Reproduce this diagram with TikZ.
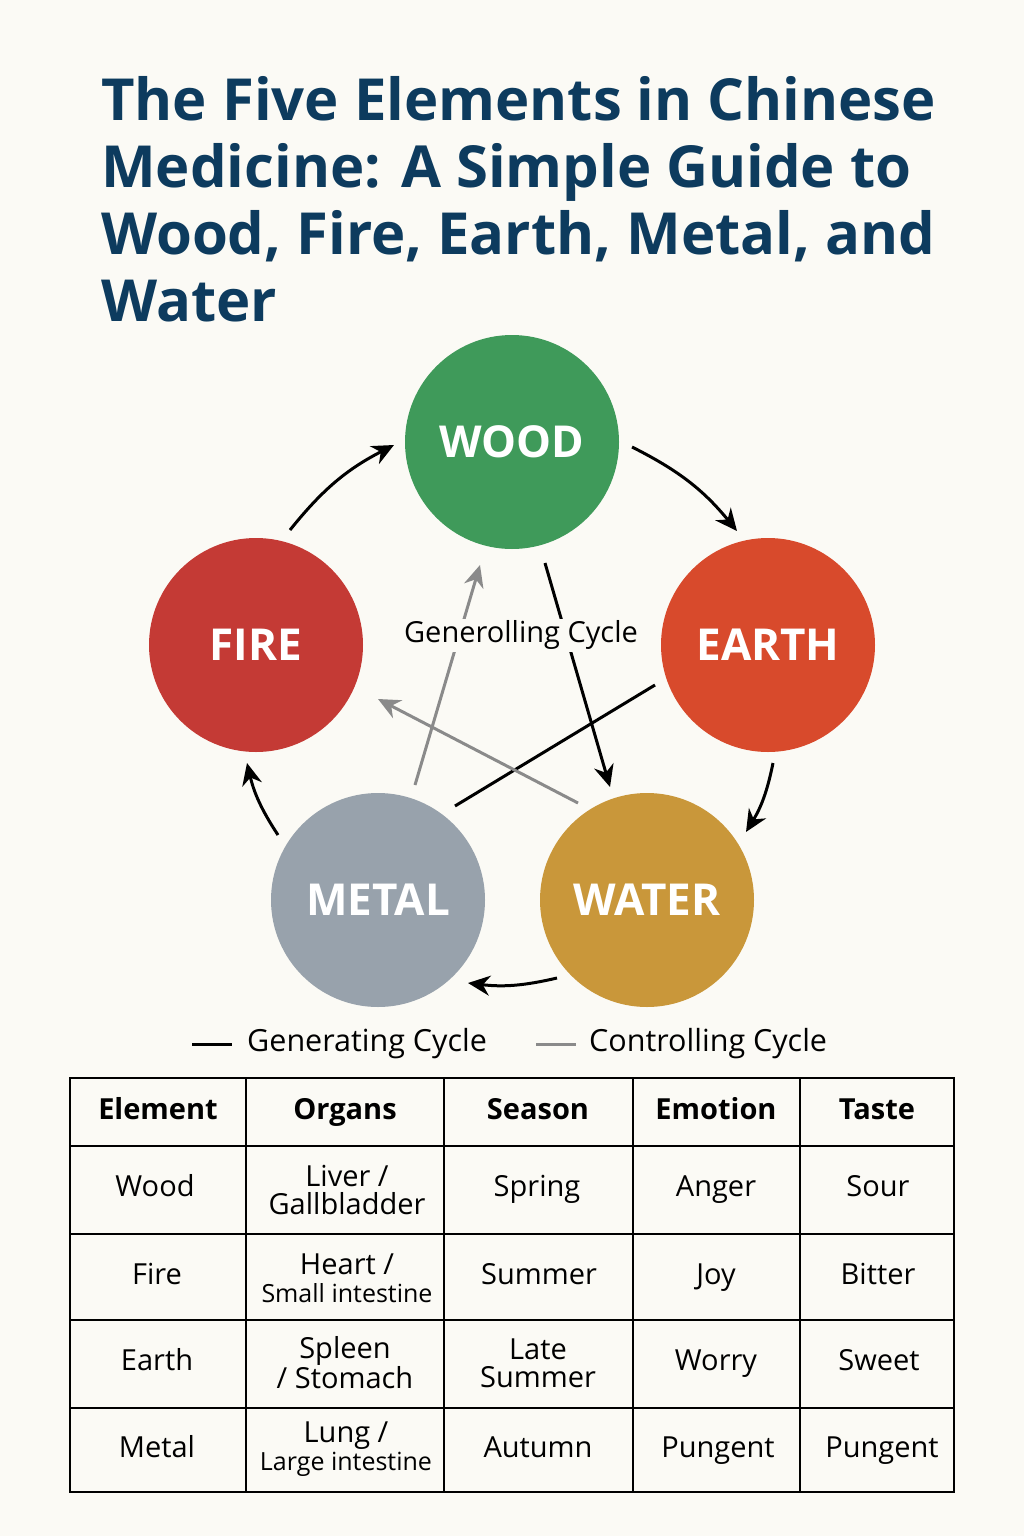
\documentclass[tikz,border=0pt]{standalone}
\usepackage{fontspec}
\setmainfont{Open Sans}
\usetikzlibrary{arrows.meta}
\definecolor{bg}{HTML}{FBFAF5}
\definecolor{navy}{HTML}{0D3B5E}
\definecolor{woodc}{HTML}{3F9A5A}
\definecolor{firec}{HTML}{C43A35}
\definecolor{earthc}{HTML}{D84A2C}
\definecolor{metalc}{HTML}{98A2AC}
\definecolor{waterc}{HTML}{C9973A}
\definecolor{grayl}{HTML}{8A8A8A}
\tikzset{
 elem/.style={circle,minimum size=214pt,inner sep=0pt,text=white,font=\fontsize{44}{50}\selectfont\bfseries},
 gen/.style={-{Stealth[length=22pt,width=20pt]},line width=3pt,black},
 ctl/.style={-{Stealth[length=22pt,width=20pt]},line width=3pt,grayl},
 cell/.style={font=\fontsize{29}{30}\selectfont,align=center,inner sep=0pt,text height=21pt,text depth=7pt},
 hcell/.style={cell,font=\fontsize{29}{30}\selectfont\bfseries},
 two/.style={font=\fontsize{29}{28}\selectfont,align=center,inner sep=0pt},
}
\begin{document}
\begin{tikzpicture}[x=1pt,y=-1pt]
\fill[bg] (0,0) rectangle (1024,1536);
\useasboundingbox (0,0) rectangle (1024,1536);
\node[anchor=north west,text=navy,font=\fontsize{58}{67}\selectfont\bfseries,align=left,inner sep=0pt] (title) at (101,76)
 {The Five Elements in Chinese\\Medicine: A Simple Guide to\\Wood, Fire, Earth, Metal, and\\Water};
\node[elem,fill=woodc] (wood) at (512,442) {WOOD};
\node[elem,fill=firec] (fire) at (256,645) {FIRE};
\node[elem,fill=earthc] (earth) at (768,645) {EARTH};
\node[elem,fill=metalc] (metal) at (378,900) {METAL};
\node[elem,fill=waterc] (water) at (647,900) {WATER};
\coordinate (f1) at (290,530); \coordinate (w1) at (394,445);
\draw[gen] (f1) to[bend left=12] (w1);
\coordinate (w2) at (632,447); \coordinate (e1) at (737,531);
\draw[gen] (w2) to[bend left=12] (e1);
\coordinate (e2) at (773,763); \coordinate (a1) at (746,832);
\draw[gen] (e2) to[bend left=10] (a1);
\coordinate (a2) at (557,978); \coordinate (m1) at (468,983);
\draw[gen] (a2) to[bend left=10] (m1);
\coordinate (m2) at (278,835); \coordinate (fi1) at (247,763);
\draw[gen] (m2) to[bend left=10] (fi1);
\coordinate (g1) at (545,563); \coordinate (g2) at (610,787);
\draw[gen] (g1) -- (g2);
\coordinate (k1) at (455,806); \coordinate (k2) at (655,685);
\draw[line width=3pt] (k1) -- (k2);
\coordinate (c1) at (415,785); \coordinate (c2) at (480,565);
\draw[ctl] (c1) -- (c2);
\coordinate (c3) at (578,803); \coordinate (c4) at (378,699);
\draw[ctl] (c3) -- (c4);
\node[font=\fontsize{29}{30}\selectfont,inner sep=2pt,fill=bg] (lbl) at (521,635) {Generolling Cycle};
% legend
\coordinate (l1) at (192,1044); \coordinate (l2) at (232,1044);
\draw[line width=3pt] (l1) -- (l2);
\node[anchor=west,font=\fontsize{30.5}{30}\selectfont,inner sep=0pt] (lg1) at (247,1044) {Generating Cycle};
\coordinate (l3) at (536,1044); \coordinate (l4) at (576,1044);
\draw[line width=3pt,grayl] (l3) -- (l4);
\node[anchor=west,font=\fontsize{30.5}{30}\selectfont,inner sep=0pt] (lg2) at (589,1044) {Controlling Cycle};
% table
\draw[line width=2pt] (70,1078) rectangle (954,1492);
\foreach \x in {246,444,633,800} \draw[line width=1.5pt] (\x,1078) -- (\x,1492);
\foreach \y in {1146,1234,1320,1408} \draw[line width=1.5pt] (70,\y) -- (954,\y);
\node[hcell] (h1) at (158,1112) {Element};
\node[hcell] (h2) at (345,1112) {Organs};
\node[hcell] (h3) at (538,1112) {Season};
\node[hcell] (h4) at (716,1112) {Emotion};
\node[hcell] (h5) at (877,1112) {Taste};
\node[cell] (r1a) at (155,1189) {Wood};
\node[two] (r1b) at (347,1190) {Liver /\\Gallbladder};
\node[cell] (r1c) at (537,1189) {Spring};
\node[cell] (r1d) at (716,1189) {Anger};
\node[cell] (r1e) at (878,1189) {Sour};
\node[cell] (r2a) at (157,1277) {Fire};
\node[two] (r2b) at (347,1278) {Heart /\\{\fontsize{25}{28}\selectfont Small intestine}};
\node[cell] (r2c) at (539,1277) {Summer};
\node[cell] (r2d) at (716,1277) {Joy};
\node[cell] (r2e) at (878,1277) {Bitter};
\node[cell] (r3a) at (157,1363) {Earth};
\node[two] (r3b) at (345,1363) {Spleen\\/ Stomach};
\node[two] (r3c) at (538,1363) {Late\\Summer};
\node[cell] (r3d) at (716,1363) {Worry};
\node[cell] (r3e) at (879,1363) {Sweet};
\node[cell] (r4a) at (157,1450) {Metal};
\node[two] (r4b) at (346,1449) {Lung /\\{\fontsize{25}{28}\selectfont Large intestine}};
\node[cell] (r4c) at (538,1450) {Autumn};
\node[cell] (r4d) at (718,1450) {Pungent};
\node[cell] (r4e) at (882,1450) {Pungent};
\end{tikzpicture}
\end{document}
